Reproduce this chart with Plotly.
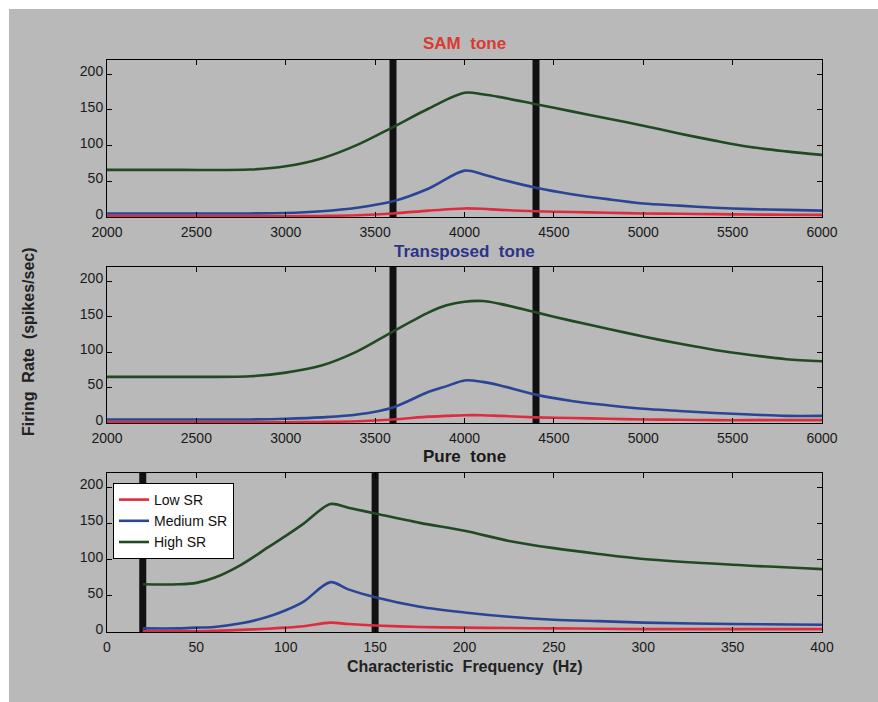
import plotly.graph_objects as go

# ---------------- data ----------------
sam_x = [2000, 2400, 2800, 3000, 3200, 3400, 3600, 3800, 4000, 4100, 4200, 4400, 4600, 4800, 5000, 5200, 5400, 5600, 5800, 6000]
sam_low = [1, 1, 1, 1, 1.5, 2.5, 5, 9, 12, 11.5, 10, 8, 7, 6, 5, 4.5, 4, 3.5, 3.2, 3]
sam_med = [5, 5, 5, 5.5, 8, 13, 22, 40, 65, 60, 53, 41, 32, 25, 19, 16, 13, 11, 10, 9]
sam_high = [66, 66, 66.5, 71, 82, 101, 126, 152, 174, 172, 168, 158, 148, 138, 128, 117, 107, 98, 92, 87]

tr_x = [2000, 2400, 2800, 3000, 3200, 3400, 3600, 3800, 3900, 4000, 4100, 4200, 4400, 4600, 4800, 5000, 5200, 5400, 5600, 5800, 6000]
tr_low = [1, 1, 1, 1, 1.5, 2.5, 5, 9, 10, 11, 11, 10, 8, 7, 6, 5, 4.5, 4, 4, 4, 4]
tr_med = [5, 5, 5, 6, 8, 12, 22, 44, 52, 60, 58, 53, 40, 31, 25, 20, 17, 14, 12, 10, 10]
tr_high = [65, 65, 66, 71, 81, 101, 129, 156, 166, 171, 172, 168, 156, 144, 133, 122, 112, 103, 96, 90, 87]

pure_x = [20, 40, 50, 60, 75, 90, 100, 110, 125, 135, 150, 175, 200, 225, 250, 275, 300, 350, 400]
pure_low = [1, 1, 1, 1.5, 3, 4.5, 6, 8, 13, 11, 9, 7, 6, 5.5, 5, 4.5, 4, 4, 4]
pure_med = [5, 5, 6, 7, 12, 21, 30, 42, 69, 59, 48, 35, 27, 21, 17, 15, 13, 11, 10]
pure_high = [66, 66, 68, 75, 93, 117, 133, 150, 177, 172, 164, 151, 140, 126, 116, 108, 101, 93, 87]

markers_sam = [3600, 4400]
markers_pure = [20, 150]

series_names = ["Low SR", "Medium SR", "High SR"]
series_colors = ["#e02a3e", "#2b4596", "#214a22"]

titles = ["SAM\u00a0 tone", "Transposed\u00a0 tone", "Pure\u00a0 tone"]
title_colors = ["#d93a2f", "#2c3488", "#1a1a1a"]

yticks = [0, 50, 100, 150, 200]
xticks_hi = [2000, 2500, 3000, 3500, 4000, 4500, 5000, 5500, 6000]
xticks_pure = [0, 50, 100, 150, 200, 250, 300, 350, 400]

# ---------------- figure ----------------
W, H = 878, 702
fig = go.Figure()

panels = [
    (sam_x, [sam_low, sam_med, sam_high], markers_sam, xticks_hi, [2000, 6000]),
    (tr_x, [tr_low, tr_med, tr_high], markers_sam, xticks_hi, [2000, 6000]),
    (pure_x, [pure_low, pure_med, pure_high], markers_pure, xticks_pure, [0, 400]),
]
# pixel boxes (top, bottom) of each plot
boxes = [(60, 217), (267, 423), (473, 632)]
x_left, x_right = 107, 822

font_fam = "Liberation Sans Narrow, Arial Narrow, Liberation Sans, Arial, sans-serif"

for i, (xs, ys, marks, xt, xr) in enumerate(panels):
    n = i + 1
    xa = "x" if n == 1 else f"x{n}"
    ya = "y" if n == 1 else f"y{n}"
    for m in marks:
        fig.add_trace(go.Scatter(x=[m, m], y=[0, 220], mode="lines",
                                 line=dict(color="#111111", width=7),
                                 showlegend=False, hoverinfo="skip",
                                 xaxis=xa, yaxis=ya))
    for k in range(3):
        fig.add_trace(go.Scatter(x=xs, y=ys[k], mode="lines", name=series_names[k],
                                 line=dict(color=series_colors[k], width=2.6, shape="spline", smoothing=0.9),
                                 showlegend=(n == 3), legendgroup=series_names[k],
                                 xaxis=xa, yaxis=ya))
    top, bot = boxes[i]
    axis_common = dict(showline=True, linecolor="black", linewidth=1, mirror="ticks",
                       ticks="inside", ticklen=5, tickcolor="black", showgrid=False,
                       zeroline=False, automargin=False,
                       tickfont=dict(family=font_fam, size=14, color="#1a1a1a"))
    fig.update_layout(**{
        ("xaxis" if n == 1 else f"xaxis{n}"): dict(
            domain=[x_left / W, x_right / W], range=xr, tickvals=xt,
            anchor=ya, ticklabelstandoff=2, **axis_common),
        ("yaxis" if n == 1 else f"yaxis{n}"): dict(
            domain=[1 - bot / H, 1 - top / H], range=[0, 220], tickvals=yticks,
            anchor=xa, ticklabelshift=-3, **axis_common),
    })
    fig.add_annotation(text=f"<b>{titles[i]}</b>", xref="paper", yref="paper",
                       x=(x_left + x_right) / 2 / W, y=1 - (top - 16) / H,
                       showarrow=False, xanchor="center", yanchor="middle",
                       font=dict(family="Liberation Sans, Arial, sans-serif", size=17, color=title_colors[i]))

fig.add_annotation(text="<b>Characteristic\u00a0 Frequency\u00a0 (Hz)</b>", xref="paper", yref="paper",
                   x=(x_left + x_right) / 2 / W, y=1 - 666 / H, showarrow=False,
                   xanchor="center", yanchor="middle",
                   font=dict(family="Liberation Sans, Arial, sans-serif", size=16, color="#222222"))
fig.add_annotation(text="<b>Firing\u00a0 Rate\u00a0 (spikes/sec)</b>", xref="paper", yref="paper",
                   x=28 / W, y=1 - 342 / H, showarrow=False, textangle=-90,
                   xanchor="center", yanchor="middle",
                   font=dict(family="Liberation Sans, Arial, sans-serif", size=16, color="#222222"))

# gray background panel
fig.add_shape(type="rect", xref="paper", yref="paper", x0=9 / W, x1=1.0, y0=0, y1=1 - 9 / H,
              fillcolor="#b9b9b9", line=dict(width=0), layer="below")

fig.update_layout(
    width=W, height=H, margin=dict(l=0, r=0, t=0, b=0, autoexpand=False),
    paper_bgcolor="white", plot_bgcolor="white",
    legend=dict(x=113 / W, y=1 - 483 / H, xanchor="left", yanchor="top",
                bgcolor="white", bordercolor="black", borderwidth=1,
                font=dict(family=font_fam, size=14, color="#111111"),
                tracegroupgap=0, itemwidth=30),
)

fig.write_html("out.html")
